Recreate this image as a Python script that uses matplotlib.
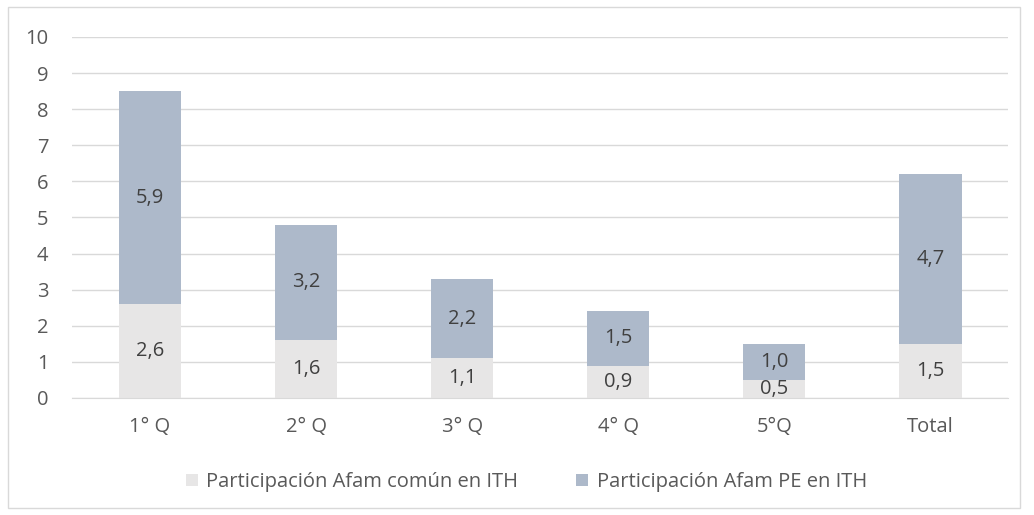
import numpy as np
import matplotlib.pyplot as plt
from matplotlib.patches import Rectangle

categories = ['1° Q', '2° Q', '3° Q', '4° Q', '5°Q', 'Total']
comun = [2.6, 1.6, 1.1, 0.9, 0.5, 1.5]
pe = [5.9, 3.2, 2.2, 1.5, 1.0, 4.7]
series_names = ['Participación Afam común en ITH', 'Participación Afam PE en ITH']

plt.rcParams['font.family'] = ['Open Sans', 'DejaVu Sans']
txt = '#595959'
fs = 14.5

fig = plt.figure(figsize=(10.34, 5.15), dpi=100)
ax = fig.add_axes([0.0696, 0.2272, 0.9056, 0.7010])

x = np.arange(len(categories))
b1 = ax.bar(x, comun, width=0.4, color='#E7E6E6', label=series_names[0], zorder=2)
b2 = ax.bar(x, pe, width=0.4, bottom=comun, color='#ADB9CA', label=series_names[1], zorder=2)

for i in range(len(categories)):
    ax.text(x[i], comun[i] / 2, '{:.1f}'.format(comun[i]).replace('.', ','),
            ha='center', va='center', fontsize=fs, color='#404040', zorder=3)
    ax.text(x[i], comun[i] + pe[i] / 2, '{:.1f}'.format(pe[i]).replace('.', ','),
            ha='center', va='center', fontsize=fs, color='#404040', zorder=3)

ax.set_xlim(-0.5, len(categories) - 0.5)
ax.set_ylim(0, 10)
ax.set_yticks(range(0, 11))
ax.set_xticks(x)
ax.set_xticklabels(categories)
ax.yaxis.grid(True, color='#D9D9D9', linewidth=1, zorder=0)
ax.tick_params(length=0, labelsize=fs, colors=txt)
ax.tick_params(axis='x', pad=14)
ax.tick_params(axis='y', pad=17)
for s in ['top', 'right', 'left']:
    ax.spines[s].set_visible(False)
ax.spines['bottom'].set_color('#D9D9D9')

fig.legend(handles=[b1, b2], loc='center', bbox_to_anchor=(0.509, 0.064), ncol=2,
           frameon=False, fontsize=fs, labelcolor=txt, handlelength=0.6, handleheight=0.6,
           columnspacing=2.9, handletextpad=0.4)

fig.patches.append(Rectangle((8 / 1034, 7 / 515), 1012 / 1034, 501 / 515, transform=fig.transFigure,
                             fill=False, edgecolor='#D9D9D9', linewidth=1))

fig.savefig('out.png', dpi=100, facecolor='white')
